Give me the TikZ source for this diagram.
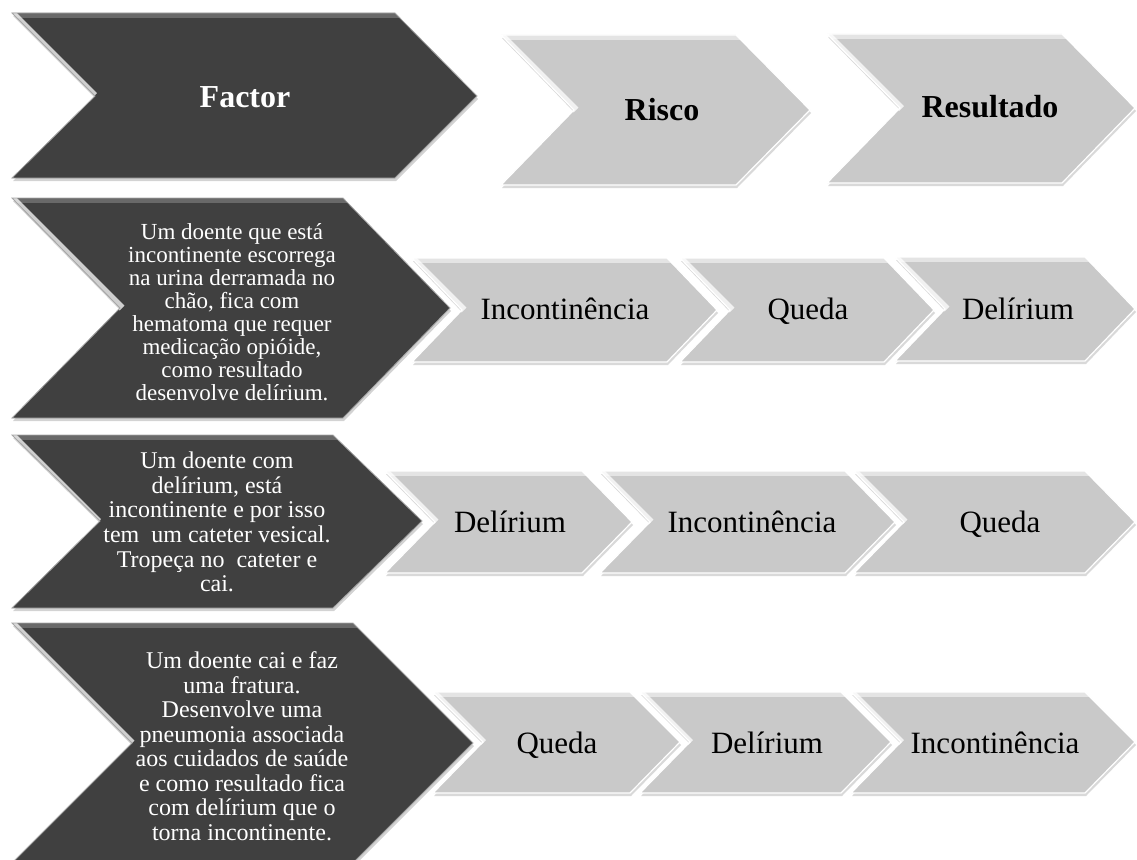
\documentclass[tikz,border=0pt]{standalone}
\usepackage{fontspec}
\setmainfont{Liberation Serif}
\usepackage{tikz}
\usetikzlibrary{shadows, calc}
\definecolor{chevdark}{RGB}{64, 64, 64}
\definecolor{chevlight}{RGB}{201, 201, 201}

\begin{document}
\begin{tikzpicture}[
    x=1pt, y=-1pt,
    bevel/.style={
        path picture={
            \fill[white, opacity=#1] (path picture bounding box.north west) rectangle ([yshift=-5pt]path picture bounding box.north east);
            \draw[white, line width=7pt, opacity=0.75] let \p1=(path picture bounding box.north west), \p2=(path picture bounding box.south west)
                in (\p1) -- (\x1+0.5*\y1-0.5*\y2, 0.5*\y1+0.5*\y2);
        }},
    darkchev/.style={fill=chevdark, draw=gray!70, line width=0.8pt, bevel=0.22,
        drop shadow={opacity=0.35, shadow xshift=1pt, shadow yshift=-3pt}},
    lightchev/.style={fill=chevlight, draw=white, line width=1.2pt, bevel=0.5,
        drop shadow={opacity=0.3, shadow xshift=1pt, shadow yshift=-3pt}},
    headtxt/.style={font=\fontsize{32}{34}\selectfont\bfseries, anchor=base},
    steptxt/.style={font=\fontsize{31}{33}\selectfont, anchor=base},
    casetxt/.style={align=center, text=white, inner sep=0pt},
]
\useasboundingbox (0,0) rectangle (1137,859);

% --- Header row: Factor / Risco / Resultado ---
\draw[darkchev] (12,13) -- (395,13) -- (477,96) -- (395,178) -- (12,178) -- (95,96) -- cycle;
\node[headtxt, text=white] (factor) at (245,107) {Factor};

\draw[lightchev] (501,35) -- (736,35) -- (810,110) -- (736,185) -- (501,185) -- (574,110) -- cycle;
\node[headtxt] (risco) at (662,120) {Risco};

\draw[lightchev] (827,34) -- (1062,34) -- (1135,108) -- (1062,183) -- (827,183) -- (900,108) -- cycle;
\node[headtxt] (resultado) at (990,117) {Resultado};

% --- Case 1: urina no chao ---
\draw[darkchev] (12,198) -- (343,198) -- (450,308) -- (343,418) -- (12,418) -- (120,308) -- cycle;
\node[casetxt, font=\fontsize{23}{23}\selectfont] (caseA) at (232,312)
    {Um doente que está\\incontinente escorrega\\na urina derramada no\\chão, fica com\\hematoma que requer\\medicação opióide,\\como resultado\\desenvolve delírium.};

\draw[lightchev] (412,258) -- (667,258) -- (717,310) -- (667,362) -- (412,362) -- (462,310) -- cycle;
\node[steptxt] (incA) at (565,319) {Incontinência};
\draw[lightchev] (680,258) -- (884,258) -- (934,310) -- (884,362) -- (680,362) -- (730,310) -- cycle;
\node[steptxt] (quedaA) at (808,319) {Queda};
\draw[lightchev] (895,257) -- (1085,257) -- (1135,309) -- (1085,361) -- (895,361) -- (945,309) -- cycle;
\node[steptxt] (delA) at (1018,319) {Delírium};

% --- Case 2: cateter vesical ---
\draw[darkchev] (12,435) -- (333,435) -- (422,521) -- (333,608) -- (12,608) -- (100,521) -- cycle;
\node[casetxt, font=\fontsize{24}{24.7}\selectfont] (caseB) at (217,522)
    {Um doente com\\delírium, está\\incontinente e por isso\\tem\ \ um cateter vesical.\\Tropeça no\ \ cateter e\\cai.};

\draw[lightchev] (385,471) -- (582,471) -- (632,522) -- (582,573) -- (385,573) -- (435,522) -- cycle;
\node[steptxt] (delB) at (510,532) {Delírium};
\draw[lightchev] (600,471) -- (845,471) -- (895,522) -- (845,573) -- (600,573) -- (650,522) -- cycle;
\node[steptxt] (incB) at (752,532) {Incontinência};
\draw[lightchev] (854,471) -- (1085,471) -- (1135,522) -- (1085,573) -- (854,573) -- (904,522) -- cycle;
\node[steptxt] (quedaB) at (1000,532) {Queda};

% --- Case 3: fratura e pneumonia ---
\draw[darkchev] (12,623) -- (353,623) -- (473,743) -- (353,863) -- (12,863) -- (132,743) -- cycle;
\node[casetxt, font=\fontsize{24}{24.5}\selectfont] (caseC) at (242,746)
    {Um doente cai e faz\\uma fratura.\\Desenvolve uma\\pneumonia associada\\aos cuidados de saúde\\e como resultado fica\\com delírium que o\\torna incontinente.};

\draw[lightchev] (433,692) -- (630,692) -- (680,742) -- (630,793) -- (433,793) -- (483,742) -- cycle;
\node[steptxt] (quedaC) at (557,753) {Queda};
\draw[lightchev] (640,692) -- (841,692) -- (891,742) -- (841,793) -- (640,793) -- (690,742) -- cycle;
\node[steptxt] (delC) at (767,753) {Delírium};
\draw[lightchev] (851,692) -- (1085,692) -- (1135,742) -- (1085,793) -- (851,793) -- (901,742) -- cycle;
\node[steptxt] (incC) at (995,753) {Incontinência};

\end{tikzpicture}
\end{document}
